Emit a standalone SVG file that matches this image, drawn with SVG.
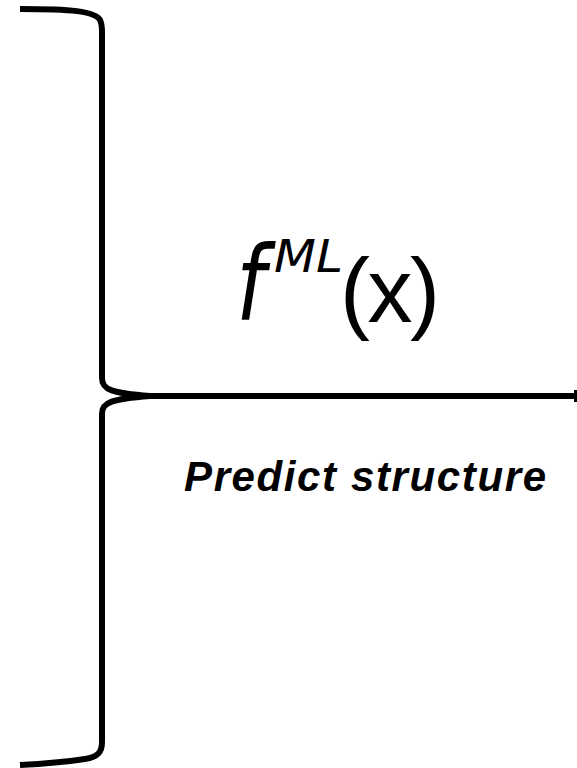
<svg xmlns="http://www.w3.org/2000/svg" width="577" height="768" viewBox="0 0 577 768">
<style>
.br{fill:none;stroke:#000;stroke-width:6;stroke-linecap:butt;stroke-linejoin:round}
.t{fill:#000}
</style>
<rect width="577" height="768" fill="#fff"/>
<g id="brace">
<path class="br" d="M20,9 C70,9 95,11 100,20 C102,24 102,27 102,32 L102,378 C102,390 112,393 150,396"/>
<path class="br" d="M150,396 C112,399 102,402 102,414 L102,742 C102,752 98,757 85,759 C65,762 40,764 20,765"/>
</g>
<g id="connectors">
<line class="br" x1="148" y1="396" x2="575" y2="396"/>
<rect x="574" y="390" width="3" height="12" fill="#000"/>
</g>
<g id="label-f">
<text class="t" transform="translate(236,320) scale(0.8,1)" font-family="DejaVu Sans, sans-serif" font-style="italic" font-size="104">f</text>
<text class="t" x="274" y="272" font-family="DejaVu Sans, sans-serif" font-style="italic" font-size="44" textLength="69" lengthAdjust="spacingAndGlyphs">ML</text>
<text class="t" x="340" y="322" font-family="Liberation Sans, Arial, sans-serif" font-size="90" letter-spacing="-2.5">(x)</text>
</g>
<g id="label-predict">
<text class="t" x="184" y="491" font-family="Liberation Sans, Arial, sans-serif" font-weight="bold" font-style="italic" font-size="42" textLength="362" lengthAdjust="spacing">Predict structure</text>
</g>
</svg>
